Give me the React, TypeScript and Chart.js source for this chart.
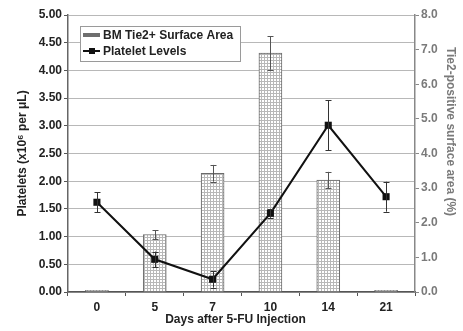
import React, { useEffect, useRef } from "react";
import { Chart, registerables } from "chart.js";

Chart.register(...registerables);

const days = ["0", "5", "7", "10", "14", "21"];
const tie2Area = [0.05, 1.66, 3.43, 6.9, 3.23, 0.05];
const tie2Err = [0, 0.13, 0.24, 0.48, 0.24, 0];
const platelets = [1.62, 0.59, 0.23, 1.42, 3.01, 1.72];
const plateletErr = [0.18, 0.14, 0.15, 0.08, 0.45, 0.27];
const leftTicksMax = 5;
const rightTicksMax = 8;
const xTitle = "Days after 5-FU Injection";
const rightTitle = "Tie2-positive surface area (%)";

const FONT = "'Liberation Sans', Arial, sans-serif";

function makePattern(): CanvasPattern | string {
  const c = document.createElement("canvas");
  c.width = 3;
  c.height = 3;
  const g = c.getContext("2d");
  if (!g) return "#ddd";
  g.fillStyle = "#ffffff";
  g.fillRect(0, 0, 3, 3);
  g.fillStyle = "#b8b8b8";
  g.fillRect(0, 0, 3, 1);
  g.fillRect(0, 0, 1, 3);
  const p = g.createPattern(c, "repeat");
  return p || "#ddd";
}

const errorBarPlugin = {
  id: "errorBars",
  afterDatasetDraw(chart: any, args: any) {
    const ds = chart.data.datasets[args.index];
    const errs: number[] | undefined = ds.errors;
    if (!errs) return;
    const meta = args.meta;
    const yScale = chart.scales[ds.yAxisID];
    const ctx = chart.ctx;
    ctx.save();
    ctx.strokeStyle = ds.errorColor || "#444";
    ctx.lineWidth = 1;
    meta.data.forEach((el: any, i: number) => {
      const e = errs[i];
      if (!e) return;
      const v = ds.data[i];
      const x = Math.round(el.x) + 0.5;
      const yt = yScale.getPixelForValue(v + e);
      const yb = yScale.getPixelForValue(v - e);
      ctx.beginPath();
      ctx.moveTo(x, yt);
      ctx.lineTo(x, yb);
      ctx.moveTo(x - 3, Math.round(yt) + 0.5);
      ctx.lineTo(x + 3, Math.round(yt) + 0.5);
      ctx.moveTo(x - 3, Math.round(yb) + 0.5);
      ctx.lineTo(x + 3, Math.round(yb) + 0.5);
      ctx.stroke();
    });
    ctx.restore();
  },
};

const titlesPlugin = {
  id: "axisTitles",
  afterDraw(chart: any) {
    const ctx = chart.ctx;
    const a = chart.chartArea;
    ctx.save();
    ctx.font = `bold 12px ${FONT}`;
    ctx.textAlign = "center";
    ctx.textBaseline = "middle";
    ctx.fillStyle = "#222";
    ctx.fillText(xTitle, (a.left + a.right) / 2 - 6, 320);
    ctx.translate(450, (a.top + a.bottom) / 2 - 22);
    ctx.rotate(Math.PI / 2);
    ctx.fillStyle = "#7a7a7a";
    ctx.fillText(rightTitle, 0, 0);
    ctx.restore();
  },
};

const legendPlugin = {
  id: "boxLegend",
  afterDraw(chart: any) {
    const ctx = chart.ctx;
    const a = chart.chartArea;
    const x = a.left + 12;
    const y = a.top + 11;
    const w = 160;
    const h = 35;
    ctx.save();
    ctx.fillStyle = "#ffffff";
    ctx.fillRect(x, y, w, h);
    ctx.strokeStyle = "#9a9a9a";
    ctx.lineWidth = 1;
    ctx.strokeRect(x + 0.5, y + 0.5, w, h);
    const ds = chart.data.datasets;
    ctx.fillStyle = "#6e6e6e";
    ctx.fillRect(x + 3, y + 7, 17, 4);
    ctx.strokeStyle = "#111";
    ctx.lineWidth = 2;
    ctx.beginPath();
    ctx.moveTo(x + 3, y + 25);
    ctx.lineTo(x + 20, y + 25);
    ctx.stroke();
    ctx.fillStyle = "#111";
    ctx.fillRect(x + 9, y + 22, 6, 6);
    ctx.fillStyle = "#222";
    ctx.font = `bold 12px ${FONT}`;
    ctx.textBaseline = "middle";
    ctx.textAlign = "left";
    ctx.fillText(ds[0].label, x + 23, y + 9.5);
    ctx.fillText(ds[1].label, x + 23, y + 25.5);
    ctx.restore();
  },
};

export default function App() {
  const ref = useRef<HTMLCanvasElement | null>(null);
  useEffect(() => {
    if (!ref.current) return;
    const pattern = makePattern();
    const chart = new Chart(ref.current, {
      type: "bar",
      data: {
        labels: days,
        datasets: [
          {
            type: "bar",
            label: "BM Tie2+ Surface Area",
            data: tie2Area,
            yAxisID: "y1",
            backgroundColor: pattern as any,
            borderColor: "#6a6a6a",
            borderWidth: 1,
            barThickness: 23,
            order: 2,
            errors: tie2Err,
            errorColor: "#555",
          } as any,
          {
            type: "line",
            label: "Platelet Levels",
            data: platelets,
            yAxisID: "y",
            borderColor: "#111",
            borderWidth: 2,
            backgroundColor: "#111",
            pointStyle: "rect",
            pointRadius: 5,
            pointBorderWidth: 0,
            tension: 0,
            order: 1,
            errors: plateletErr,
            errorColor: "#333",
          } as any,
        ],
      },
      options: {
        responsive: false,
        animation: false,
        devicePixelRatio: 1,
        layout: { padding: { top: 15, left: 0, right: 0, bottom: 0 } },
        plugins: {
          legend: { display: false },
          tooltip: { enabled: false },
        },
        scales: {
          x: {
            offset: true,
            grid: {
              display: true,
              drawOnChartArea: false,
              offset: true,
              tickLength: 4,
              tickColor: "#555",
            },
            border: { color: "#555", width: 1.5 },
            ticks: {
              color: "#222",
              font: { family: FONT, size: 12, weight: "bold" },
              padding: 4,
            },
            afterFit(s: any) {
              s.height = 39;
            },
          },
          y: {
            position: "left",
            min: 0,
            max: leftTicksMax,
            grid: {
              color: "#b8b8b8",
              lineWidth: 1,
              tickLength: 4,
              tickColor: "#555",
            },
            border: { color: "#666", width: 1.5 },
            ticks: {
              stepSize: 0.5,
              color: "#222",
              padding: 2,
              font: { family: FONT, size: 12, weight: "bold" },
              callback: (v: any) => Number(v).toFixed(2),
            },
            title: {
              display: true,
              text: "Platelets (x10\u2076 per \u03bcL)",
              color: "#222",
              font: { family: FONT, size: 12, weight: "bold" },
              padding: { top: 15, bottom: 0 },
            },
            afterFit(s: any) {
              s.width = 68;
            },
          },
          y1: {
            position: "right",
            min: 0,
            max: rightTicksMax,
            grid: {
              drawOnChartArea: false,
              tickLength: 4,
              tickColor: "#888",
            },
            border: { color: "#888", width: 1.5 },
            ticks: {
              stepSize: 1,
              color: "#7a7a7a",
              padding: 2,
              font: { family: FONT, size: 12, weight: "bold" },
              callback: (v: any) => Number(v).toFixed(1),
            },
            afterFit(s: any) {
              s.width = 48;
            },
          },
        },
      } as any,
      plugins: [errorBarPlugin, legendPlugin, titlesPlugin],
    });
    return () => chart.destroy();
  }, []);
  return (
    <div style={{ position: "fixed", left: 0, top: 0, width: 463, height: 331, background: "#fff" }}>
      <canvas ref={ref} width={463} height={331} style={{ display: "block" }} />
    </div>
  );
}
